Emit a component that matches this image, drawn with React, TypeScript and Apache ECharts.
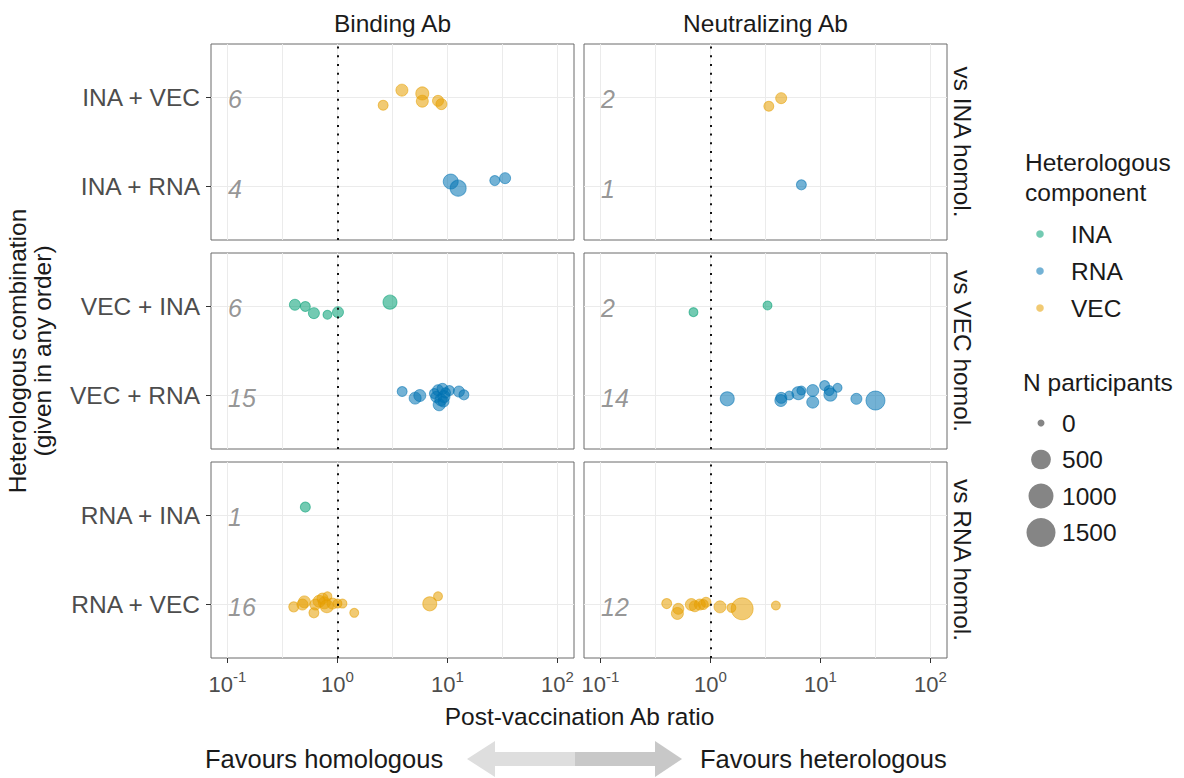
import React, { useEffect, useRef } from 'react';
import * as echarts from 'echarts';

const FONT = "'Liberation Sans', Arial, Helvetica, sans-serif";

// Each point: [post-vaccination Ab ratio, N participants, vertical jitter]
// Binding Ab / vs INA homol.
const bindInaVec = [[2.6, 28, -0.087], [3.85, 77, 0.082], [5.9, 112, 0.045], [5.9, 77, -0.042], [8.2, 50, -0.038], [8.8, 50, -0.075]];
const bindInaRna = [[10.7, 198, 0.056], [12.5, 251, -0.018], [26.9, 28, 0.067], [33.4, 50, 0.094]];
// Neutralizing Ab / vs INA homol.
const neutInaVec = [[3.39, 28, -0.098], [4.39, 50, -0.008]];
const neutInaRna = [[6.7, 28, 0.019]];
// Binding Ab / vs VEC homol.
const bindVecIna = [[0.41, 50, 0.019], [0.51, 28, 0], [0.61, 50, -0.075], [0.81, 12, -0.093], [1.01, 50, -0.064], [3.0, 152, 0.048]];
const bindVecRna = [[3.87, 28, 0.045], [5.08, 77, -0.029], [5.6, 77, 0], [7.6, 28, 0.022], [7.9, 50, -0.015], [8.2, 50, 0.06], [8.4, 77, -0.104], [8.7, 77, -0.048], [9.0, 50, 0.075], [9.2, 50, -0.067], [9.3, 77, -0.011], [9.6, 28, 0.03], [10.4, 28, 0.056], [12.7, 50, 0.045], [14.1, 28, 0.008]];
// Neutralizing Ab / vs VEC homol.
const neutVecIna = [[0.7, 12, -0.064], [3.3, 12, 0.011]];
const neutVecRna = [[1.42, 152, -0.037], [4.36, 77, -0.056], [4.4, 50, -0.026], [5.2, 12, 0], [6.3, 112, 0.027], [6.7, 12, 0.056], [8.5, 77, 0.056], [8.5, 77, -0.074], [10.9, 28, 0.112], [12.0, 28, 0.056], [12.3, 112, 0.011], [14.3, 12, 0.087], [21.2, 50, -0.037], [31.6, 446, -0.056]];
// Binding Ab / vs RNA homol.
const bindRnaIna = [[0.51, 28, 0.094]];
const bindRnaVec = [[0.4, 28, -0.026], [0.48, 50, 0], [0.5, 77, 0.03], [0.61, 28, -0.093], [0.63, 50, 0], [0.68, 77, 0.037], [0.73, 50, 0.067], [0.76, 77, 0.019], [0.8, 112, -0.019], [0.81, 12, 0.093], [0.9, 50, 0.011], [1.0, 12, 0.011], [1.11, 12, 0.011], [1.42, 12, -0.093], [6.9, 152, 0.008], [8.2, 12, 0.093]];
// Neutralizing Ab / vs RNA homol.
const neutRnaVec = [[0.4, 28, 0.011], [0.5, 77, -0.1], [0.51, 50, -0.048], [0.67, 77, 0], [0.72, 50, -0.019], [0.8, 50, 0], [0.86, 28, 0], [0.91, 28, 0.026], [1.22, 77, -0.026], [1.55, 12, -0.037], [1.94, 697, -0.048], [3.93, 12, -0.011]];

const columnStrips = ['Binding Ab', 'Neutralizing Ab'];
const rowStrips = ['vs INA homol.', 'vs VEC homol.', 'vs RNA homol.'];
// [label at row value 1 (upper), label at row value 0 (lower)]
const rowCombos = [['INA + VEC', 'INA + RNA'], ['VEC + INA', 'VEC + RNA'], ['RNA + INA', 'RNA + VEC']];
const componentNames = ['INA', 'RNA', 'VEC'];
const componentColors: Record<string, string> = { INA: '#009E73', RNA: '#0072B2', VEC: '#E69F00' };
const sizeBreaks = [0, 500, 1000, 1500];
const gridLogValues = [-1, -0.5, 0, 0.5, 1, 1.5, 2];
const majorLogValues = [-1, 0, 1, 2];

const panels = [
  { r: 0, c: 0, groups: [{ pts: bindInaVec, comp: 'VEC', row: 1 }, { pts: bindInaRna, comp: 'RNA', row: 0 }] },
  { r: 0, c: 1, groups: [{ pts: neutInaVec, comp: 'VEC', row: 1 }, { pts: neutInaRna, comp: 'RNA', row: 0 }] },
  { r: 1, c: 0, groups: [{ pts: bindVecIna, comp: 'INA', row: 1 }, { pts: bindVecRna, comp: 'RNA', row: 0 }] },
  { r: 1, c: 1, groups: [{ pts: neutVecIna, comp: 'INA', row: 1 }, { pts: neutVecRna, comp: 'RNA', row: 0 }] },
  { r: 2, c: 0, groups: [{ pts: bindRnaIna, comp: 'INA', row: 1 }, { pts: bindRnaVec, comp: 'VEC', row: 0 }] },
  { r: 2, c: 1, groups: [{ pts: neutRnaVec, comp: 'VEC', row: 0 }] },
];

const sizeOf = (n: number) => 7 + 22 * Math.sqrt(n / 1500);

const COL_LEFT = [211, 584];
const ROW_TOP = [44, 253, 462];
const PW = 363;
const PH = 196;

function txt(text: string, x: number, y: number, o: any = {}) {
  return {
    type: 'text',
    x,
    y,
    rotation: o.rotation || 0,
    silent: true,
    style: {
      text,
      fontSize: o.fontSize || 24.5,
      fontFamily: FONT,
      fontStyle: o.fontStyle || 'normal',
      fill: o.fill || '#1a1a1a',
      align: o.align || 'left',
      verticalAlign: 'middle',
      lineHeight: o.lineHeight || 28,
    },
  };
}

export default function App() {
  const ref = useRef<HTMLDivElement>(null);
  useEffect(() => {
    const chart = echarts.init(ref.current!, null, { renderer: 'svg' });
    const grid: any[] = [];
    const xAxis: any[] = [];
    const yAxis: any[] = [];
    const series: any[] = [];

    panels.forEach((p, i) => {
      grid.push({
        left: COL_LEFT[p.c], top: ROW_TOP[p.r], width: PW, height: PH,
        show: true, borderColor: '#6a6a6a', borderWidth: 1, containLabel: false, outerBoundsMode: 'none',
      });
      xAxis.push({
        type: 'value', gridIndex: i, min: -1.15, max: 2.15, position: 'bottom',
        axisLine: { show: false, onZero: false },
        axisTick: { show: false, customValues: gridLogValues },
        axisLabel: { show: false },
        splitLine: { show: true, lineStyle: { color: '#ebebeb', width: 1 } },
      });
      yAxis.push({
        type: 'value', gridIndex: i, min: -0.6, max: 1.6, position: 'left',
        axisLine: { show: false, onZero: false },
        axisTick: { show: p.c === 0, customValues: [0, 1], length: 5, lineStyle: { color: '#333', width: 1 } },
        axisLabel: {
          show: p.c === 0, customValues: [0, 1], margin: 11,
          formatter: (v: number) => rowCombos[p.r][Math.round(v) === 1 ? 0 : 1],
          fontSize: 24.5, color: '#4d4d4d', fontFamily: FONT,
        },
        splitLine: { show: true, lineStyle: { color: '#ebebeb', width: 1 } },
      });
      p.groups.forEach((g, gi) => {
        const col = componentColors[g.comp];
        const s: any = {
          type: 'scatter', name: g.comp, xAxisIndex: i, yAxisIndex: i, silent: true,
          data: g.pts.map(([ratio, n, jit]) => [Math.log10(ratio), g.row + jit, n]),
          symbolSize: (v: number[]) => sizeOf(v[2]),
          itemStyle: { color: col, opacity: 0.55, borderColor: col, borderWidth: 1 },
          z: 2,
        };
        if (gi === 0) {
          s.markLine = {
            silent: true, symbol: 'none', label: { show: false },
            lineStyle: { type: [2, 6.7], color: '#111', width: 2, cap: 'butt' },
            data: [{ xAxis: 0 }],
          };
        }
        series.push(s);
      });
      series.push({
        type: 'scatter', xAxisIndex: i, yAxisIndex: i, silent: true, symbolSize: 1,
        itemStyle: { color: 'rgba(0,0,0,0)' },
        data: p.groups.map((g) => [-1, g.row, g.pts.length]),
        label: {
          show: true, position: 'right', distance: 0, offset: [0, 2],
          formatter: (q: any) => String(q.value[2]),
          fontSize: 25, fontStyle: 'italic', color: '#7a7a7a', fontFamily: FONT,
        },
        z: 3,
      });
    });

    panels.forEach((p, i) => {
      if (p.r !== 2) return;
      xAxis.push({
        type: 'value', gridIndex: i, min: -1.15, max: 2.15, position: 'bottom',
        axisLine: { show: false, onZero: false },
        axisTick: { show: true, customValues: majorLogValues, length: 5, lineStyle: { color: '#333', width: 1 } },
        axisLabel: {
          show: true, customValues: majorLogValues, margin: 11,
          formatter: (v: number) => `{b|10}{s|${Math.round(v)}}`,
          rich: {
            b: { fontSize: 22, lineHeight: 30, color: '#4d4d4d', fontFamily: FONT },
            s: { fontSize: 15, lineHeight: 16, verticalAlign: 'top', color: '#4d4d4d', fontFamily: FONT },
          },
        },
        splitLine: { show: false },
      });
    });

    const graphic: any[] = [];
    columnStrips.forEach((t, c) => graphic.push(txt(t, COL_LEFT[c] + PW / 2, 23, { align: 'center' })));
    rowStrips.forEach((t, r) => graphic.push(txt(t, 962, ROW_TOP[r] + PH / 2, { align: 'center', rotation: -Math.PI / 2 })));
    graphic.push(txt('Heterologous combination\n(given in any order)', 30, 351, { align: 'center', rotation: Math.PI / 2, lineHeight: 25 }));
    graphic.push(txt('Post-vaccination Ab ratio', 579.5, 716, { align: 'center' }));

    // colour legend
    graphic.push(txt('Heterologous', 1025, 162));
    graphic.push(txt('component', 1025, 192));
    componentNames.forEach((nm, k) => {
      const y = 234 + k * 37;
      graphic.push({ type: 'circle', silent: true, shape: { cx: 1040, cy: y, r: 3.8 }, style: { fill: componentColors[nm], opacity: 0.55 } });
      graphic.push(txt(nm, 1071, y));
    });
    // size legend
    graphic.push(txt('N participants', 1023, 382));
    sizeBreaks.forEach((b, k) => {
      const y = 423 + k * 36.5;
      graphic.push({ type: 'circle', silent: true, shape: { cx: 1041, cy: y, r: sizeOf(b) / 2 }, style: { fill: '#333', opacity: 0.6 } });
      graphic.push(txt(String(b), 1062, y));
    });

    // bottom arrow
    graphic.push({ type: 'polygon', silent: true, shape: { points: [[467, 759], [495, 741], [495, 752], [575, 752], [575, 766], [495, 766], [495, 777]] }, style: { fill: '#dedede' } });
    graphic.push({ type: 'polygon', silent: true, shape: { points: [[575, 752], [655, 752], [655, 741], [682, 759], [655, 777], [655, 766], [575, 766]] }, style: { fill: '#c8c8c8' } });
    graphic.push(txt('Favours homologous', 205, 759, { fontSize: 25.5 }));
    graphic.push(txt('Favours heterologous', 700, 759, { fontSize: 25.5 }));

    chart.setOption({
      animation: false,
      backgroundColor: '#ffffff',
      textStyle: { fontFamily: FONT },
      grid, xAxis, yAxis, series, graphic,
    });
    return () => chart.dispose();
  }, []);
  return <div ref={ref} style={{ position: 'absolute', left: 0, top: 0, width: 1184, height: 778 }} />;
}
